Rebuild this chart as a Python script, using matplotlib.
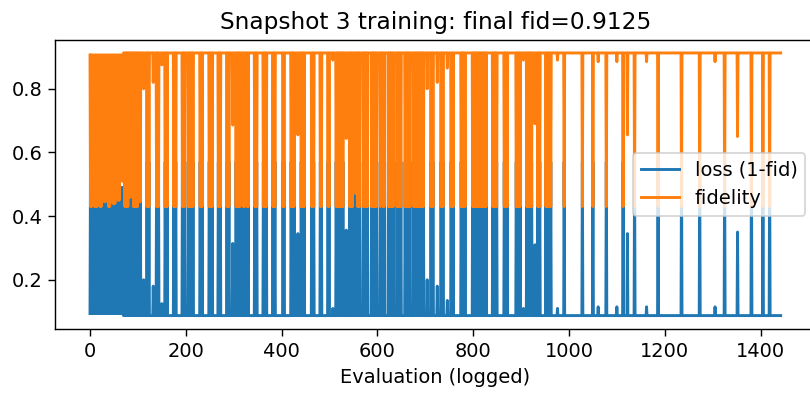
import numpy as np
import matplotlib
matplotlib.use("Agg")
import matplotlib.pyplot as plt

# fidelity log
n_evals = 1443
fid_start = 0.906      # plateau before eval ~70
fid_later = 0.9125     # plateau after that (final fid)
switch_at = 70
fid_dip = 0.43         # value of a "bad" evaluation

# stretches where every 2nd evaluation drops to fid_dip
busy_spans = [
    (1, 3), (10, 14), (21, 23), (30, 33), (39, 41), (48, 52), (59, 61), (67, 105),
    (119, 124), (139, 143), (157, 161), (175, 179), (193, 198), (205, 216),
    (230, 234), (249, 255), (268, 272), (286, 290), (305, 313), (320, 322), (328, 330),
    (344, 348), (362, 368), (382, 386), (403, 405), (420, 426), (441, 447),
    (463, 467), (481, 483), (497, 499), (514, 528),
    (542, 548), (555, 563), (571, 580), (588, 598), (606, 615), (623, 633),
    (641, 650), (658, 668), (676, 696),
    (712, 716), (733, 737), (754, 758), (775, 783), (799, 827), (841, 849),
    (865, 871), (890, 898), (912, 922), (935, 939), (952, 962),
]
# isolated bad evaluations later on
single_dips = [990, 1028, 1050, 1078, 1113, 1137, 1186, 1235, 1273, 1325,
               1381, 1405, 1419]
# evaluations that landed in between
odd_evals = [30, 32, 48, 50, 52, 59, 61, 67, 69, 71, 81, 83, 85, 87, 89,
             101, 103, 105, 112, 132, 150, 298, 434, 507, 535, 555, 557,
             608, 610, 704, 725, 746, 905, 929, 976, 1061, 1100, 1122,
             1162, 1305, 1352]
odd_fids = [0.445, 0.445, 0.44, 0.44, 0.44, 0.45, 0.45, 0.51, 0.51, 0.51,
            0.46, 0.46, 0.46, 0.46, 0.46, 0.445, 0.445, 0.445, 0.80, 0.82,
            0.875, 0.686, 0.655, 0.89, 0.644, 0.47, 0.47, 0.45, 0.45, 0.80,
            0.82, 0.865, 0.89, 0.69, 0.89, 0.885, 0.885, 0.655, 0.885,
            0.885, 0.65]

evals = np.arange(n_evals)
fid = np.where(evals < switch_at, fid_start, fid_later)
for a, b in busy_spans:
    fid[a:b + 1:2] = fid_dip
fid[single_dips] = fid_dip
fid[odd_evals] = odd_fids
loss = 1 - fid

plt.rcParams["font.size"] = 11
plt.rcParams["xtick.major.size"] = 3.9
plt.rcParams["ytick.major.size"] = 3.9

fig = plt.figure(figsize=(810 / 127, 397 / 127), dpi=127)
ax = fig.add_axes([0.0685, 0.1720, 0.9379, 0.7277])
ax.plot(evals, loss, lw=1.65, label="loss (1-fid)")
ax.plot(evals, fid, lw=1.65, label="fidelity")
ax.set_xlabel("Evaluation (logged)")
ax.set_title("Snapshot 3 training: final fid=0.9125")
ax.legend(loc="center right")

fig.savefig("out.png", dpi=127)
